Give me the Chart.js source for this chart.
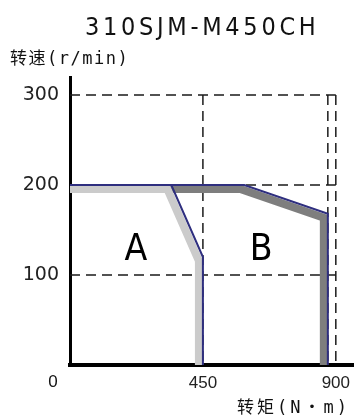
<!DOCTYPE html>
<html>
<head>
<meta charset="utf-8">
<script src="https://cdn.jsdelivr.net/npm/chart.js@4/dist/chart.umd.min.js"></script>
<style>
  html, body { margin: 0; padding: 0; background: #fff; }
  #wrap { width: 358px; height: 419px; }
</style>
</head>
<body>
<div id="wrap"><canvas id="c" width="358" height="419"></canvas></div>
<script>
// ---- data ----
const chartTitle = '310SJM-M450CH';
const yAxisTitle = '转速(r/min)';
const xAxisTitle = '转矩(N・m)';

const xTicks = [0, 450, 900];
const yTicks = [100, 200, 300];

// curve A (light band)
const torqueA = [0, 343, 450, 450];
const speedA  = [200, 200, 120, 0];
// curve B (dark band)
const torqueB = [343, 590, 873, 873];
const speedB  = [200, 200, 168, 0];

// dashed reference lines
const refTorque = [450, 873, 900];
const refSpeed  = [100, 200, 300];

// region labels
const regionLabels = ['A', 'B'];
const regionTorque = [223, 647];
const regionSpeed  = [127, 127];

// ---- helpers ----
const pts = (xs, ys) => xs.map((x, i) => ({ x: x, y: ys[i] }));
const BLUE = '#2f2f7f';
const DASH = '#1a1a1a';

const datasets = [];
refSpeed.forEach(v => datasets.push({
  data: pts([0, Math.max(...refTorque)], [v, v]),
  borderColor: DASH, borderWidth: 1.5, borderDash: [10, 6],
  pointRadius: 0, showLine: true, order: 6
}));
refTorque.forEach(t => datasets.push({
  data: pts([t, t], [Math.max(...refSpeed), 0]),
  borderColor: DASH, borderWidth: 1.5, borderDash: [10, 6],
  pointRadius: 0, showLine: true, order: 6
}));
datasets.push({
  data: pts(torqueB, speedB), band: true,
  borderColor: '#7e7e7e', borderWidth: 8, borderJoinStyle: 'miter',
  pointRadius: 0, showLine: true, order: 4
});
datasets.push({
  data: pts(torqueA, speedA), band: true,
  borderColor: '#cbcbcb', borderWidth: 8, borderJoinStyle: 'miter',
  pointRadius: 0, showLine: true, order: 3
});
datasets.push({
  data: pts(torqueB, speedB),
  borderColor: BLUE, borderWidth: 2, borderJoinStyle: 'miter',
  pointRadius: 0, showLine: true, order: 1
});
datasets.push({
  data: pts(torqueA, speedA),
  borderColor: BLUE, borderWidth: 2, borderJoinStyle: 'miter',
  pointRadius: 0, showLine: true, order: 1
});

const bandShift = {
  id: 'bandShift',
  beforeDatasetDraw(chart, args) {
    const ds = chart.data.datasets[args.index];
    if (!ds.band) return;
    const a = chart.chartArea, ctx = chart.ctx;
    ctx.save();
    ctx.beginPath();
    ctx.rect(a.left, a.top, a.right - a.left, a.bottom - a.top);
    ctx.clip();
    ctx.translate(-4, 4);
  },
  afterDatasetDraw(chart, args) {
    const ds = chart.data.datasets[args.index];
    if (!ds.band) return;
    chart.ctx.restore();
  }
};

const texts = {
  id: 'texts',
  afterDraw(chart) {
    const ctx = chart.ctx;
    const xs = chart.scales.x, ys = chart.scales.y;
    ctx.save();
    ctx.fillStyle = '#111';
    ctx.textAlign = 'left';
    ctx.textBaseline = 'alphabetic';
    // title
    ctx.font = "25px 'Liberation Sans Narrow', 'DejaVu Sans Condensed', sans-serif";
    ctx.letterSpacing = '3.7px';
    ctx.fillText(chartTitle, 85, 35);
    // y axis title
    ctx.font = "17px 'DejaVu Sans Mono', 'Noto Sans CJK SC', monospace";
    ctx.letterSpacing = '1.5px';
    ctx.fillText(yAxisTitle, 10, 64);
    // x axis title
    ctx.letterSpacing = '3px';
    ctx.fillText(xAxisTitle, 237, 413);
    // origin label
    ctx.letterSpacing = '0px';
    ctx.font = "17px 'Liberation Sans', Arial, sans-serif";
    ctx.textAlign = 'center';
    ctx.textBaseline = 'middle';
    ctx.fillText(String(xTicks[0]), xs.left - 17, 382);
    // region labels
    ctx.fillStyle = '#000';
    ctx.font = "37px 'Liberation Sans Narrow', 'DejaVu Sans Condensed', sans-serif";
    regionLabels.forEach((l, i) => {
      ctx.fillText(l, xs.getPixelForValue(regionTorque[i]), ys.getPixelForValue(regionSpeed[i]));
    });
    ctx.restore();
  }
};

new Chart(document.getElementById('c'), {
  type: 'scatter',
  data: { datasets: datasets },
  plugins: [bandShift, texts],
  options: {
    responsive: false,
    animation: false,
    devicePixelRatio: 1,
    layout: { padding: { top: 77, left: 0, right: 0, bottom: 0 } },
    plugins: { legend: { display: false }, tooltip: { enabled: false }, title: { display: false } },
    elements: { line: { tension: 0, borderCapStyle: 'butt' } },
    scales: {
      x: {
        type: 'linear', min: 0, max: 960,
        afterFit(s) { s.height = 54; },
        afterBuildTicks(s) { s.ticks = xTicks.map(v => ({ value: v })); },
        grid: { display: false, drawTicks: false },
        border: { display: true, color: '#000', width: 4 },
        ticks: {
          color: '#222', padding: 8, maxRotation: 0, autoSkip: false,
          font: { family: "'Liberation Sans', Arial, sans-serif", size: 17 },
          callback: (v) => (v === 0 ? '' : String(v))
        }
      },
      y: {
        type: 'linear', min: 0, max: 320,
        afterFit(s) { s.width = 70; },
        afterBuildTicks(s) { s.ticks = yTicks.map(v => ({ value: v })); },
        grid: { display: false, drawTicks: false },
        border: { display: true, color: '#000', width: 3 },
        ticks: {
          color: '#222', padding: 11, autoSkip: false,
          font: { family: "'DejaVu Sans', sans-serif", size: 19 },
          callback: (v) => String(v)
        }
      }
    }
  }
});
</script>
</body>
</html>
